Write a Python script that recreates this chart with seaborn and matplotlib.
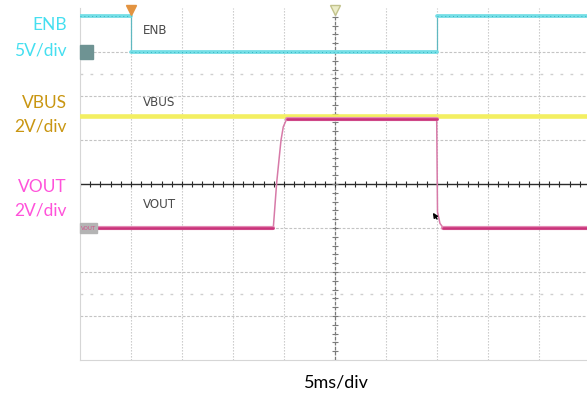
import numpy as np
import pandas as pd
import matplotlib
matplotlib.use("Agg")
import matplotlib.pyplot as plt
import seaborn as sns

# ---- captured waveforms (time in ms, amplitude in volts) ----
t_enb = [0.0, 5.0, 5.0, 35.0, 35.0, 50.0]
v_enb = [4.1, 4.1, 0.0, 0.0, 4.1, 4.1]

t_vbus = [0.0, 50.0]
v_vbus = [5.1, 5.1]

t_vout = [0.0, 18.95, 19.28, 19.54, 19.71, 19.93, 20.26, 34.97, 35.05, 35.29, 35.62, 50.0]
v_vout = [0.0, 0.0, 2.05, 3.24, 4.0, 4.6, 4.95, 4.95, 0.73, 0.21, 0.0, 0.0]

# channel settings: volts per division and ground offset (divisions)
channels = ["ENB", "VBUS", "VOUT"]
volts_per_div = [5, 2, 2]
ground_div = [3.0, -1.0, -1.0]
time_per_div = 5  # ms

# ---- figure ----
sns.set_theme(style="white")
plt.rcParams["font.family"] = ["Lato", "DejaVu Sans"]

W, H = 587, 397
fig = plt.figure(figsize=(W / 100, H / 100), dpi=100)
x0, y_bot, y_top, px_div = 80, 360, 8, 51
ax = fig.add_axes([x0 / W, (H - y_bot) / H, (W - x0) / W, (y_bot - y_top) / H])
ax.set_xlim(0, (W - x0) / px_div * time_per_div)
ax.set_ylim(-4, 4)
ax.set_xticks([])
ax.set_yticks([])
for s in ["top", "right"]:
    ax.spines[s].set_visible(False)
for s in ["left", "bottom"]:
    ax.spines[s].set_color("#d6d6d6")
    ax.spines[s].set_linewidth(0.8)

# graticule
grid_kw = dict(color="#c4c4c4", lw=0.8, zorder=1)
for k in range(1, 10):
    if k != 5:
        ax.axvline(k * time_per_div, ls=(0, (1.2, 1.5)), **grid_kw)
for k in (-3, -2, -1, 1, 2, 3):
    ax.axhline(k, ls=(0, (2.5, 1.5)), **grid_kw)
for k in (-2.5, 2.5):
    ax.axhline(k, ls=(0, (2, 5.2)), color="#cfcfcf", lw=1.0, zorder=1)

# centre cross with minor ticks
ax.axhline(0, color="#2b2b2b", lw=1.0, zorder=2)
ax.axvline(25, color="#7a7a7a", lw=0.9, ls=(0, (3, 1)), zorder=2)
minor_t = np.arange(0, 50.01, 1.0)
ax.plot(minor_t, np.zeros_like(minor_t), ls="none", marker="|", ms=4,
        mew=0.8, color="#2b2b2b", zorder=2)
minor_v = np.arange(-4, 4.01, 0.2)
ax.plot(np.full_like(minor_v, 25), minor_v, ls="none", marker="_", ms=4,
        mew=0.8, color="#7a7a7a", zorder=2)


def to_frame(t, v, ch):
    i = channels.index(ch)
    return pd.DataFrame({"t": t, "div": np.asarray(v) / volts_per_div[i] + ground_div[i]})


def level_segments(df):
    """Split a trace into its flat (settled) portions, one unit per segment."""
    rows = []
    vals = df["div"].to_numpy()
    ts = df["t"].to_numpy()
    seg = 0
    for i in range(len(vals) - 1):
        if np.isclose(vals[i], vals[i + 1]):
            rows += [(ts[i], vals[i], seg), (ts[i + 1], vals[i + 1], seg)]
            seg += 1
    return pd.DataFrame(rows, columns=["t", "div", "seg"])


enb = to_frame(t_enb, v_enb, "ENB")
vbus = to_frame(t_vbus, v_vbus, "VBUS")
vout = to_frame(t_vout, v_vout, "VOUT")

common = dict(x="t", y="div", ax=ax, estimator=None, sort=False, legend=False)

# VBUS
sns.lineplot(data=vbus, color="#f3ef62", lw=3.3, zorder=4, **common)

# ENB: thin edges, thick settled levels with darker sample dots
sns.lineplot(data=enb, color="#5fb8c0", lw=0.9, zorder=5, **common)
enb_lv = level_segments(enb)
sns.lineplot(data=enb_lv, units="seg", color="#74dee6", lw=2.7, zorder=5, **common)
sns.lineplot(data=enb_lv, units="seg", color="#35b4c0", lw=0.7,
             dashes=False, linestyle=(0, (1, 3)), zorder=6, **common)

# VOUT
sns.lineplot(data=vout, color="#d77aa8", lw=1.1, zorder=6, **common)
vout_lv = level_segments(vout)
sns.lineplot(data=vout_lv, units="seg", color="#e48ab4", lw=3.0, zorder=6, **common)
sns.lineplot(data=vout_lv, units="seg", color="#c9337a", lw=1.8, zorder=7, **common)

# channel ground markers
tpx = time_per_div / px_div  # ms per pixel
ax.add_patch(plt.Rectangle((0, ground_div[0] - 0.15), 13 * tpx, 0.3,
                           color="#6e9393", zorder=8, clip_on=False))
ax.add_patch(plt.Rectangle((0, ground_div[2] - 0.12), 17 * tpx, 0.24,
                           color="#b4b4b4", zorder=8, clip_on=False))
ax.text(8.5 * tpx, ground_div[2], "VOUT", fontsize=4, color="#d0508a",
        ha="center", va="center", zorder=9, family="DejaVu Sans")

# trigger position / time reference markers
ax.plot([5.0], [3.96], marker="v", ms=7, color="#e39340", mec="#e39340", zorder=9, clip_on=False)
ax.plot([25.0], [3.96], marker="v", ms=7, color="#ecedc8", mec="#c2c28c", zorder=9, clip_on=False)
ax.plot([50.3], [3.45], marker="o", ms=8, color="#40c8d4", zorder=9, clip_on=True)

# cursor
ax.annotate("", xy=(34.45, -0.6), xytext=(35.15, -0.85),
            arrowprops=dict(arrowstyle="-|>", color="black", lw=1.0,
                            mutation_scale=7), zorder=10)

# trace labels on screen
lab_kw = dict(fontsize=9.5, color="#4a4a4a", family="DejaVu Sans", fontstretch="condensed",
              va="center", ha="left", zorder=9)
ax.text(6.2, (184 - 31) / 44, "ENB", **lab_kw)
ax.text(6.2, (184 - 103) / 44, "VBUS", **lab_kw)
ax.text(6.2, (184 - 204) / 44, "VOUT", **lab_kw)

# channel captions on the left
cap = [("ENB", 25, "#45dff0"), ("5V/div", 50, "#45dff0"),
       ("VBUS", 103, "#c99612"), ("2V/div", 127, "#c99612"),
       ("VOUT", 187, "#ff52da"), ("2V/div", 211, "#ff52da")]
for txt, ypx, col in cap:
    fig.text(67 / W, 1 - ypx / H, txt, fontsize=12.5, color=col, ha="right", va="center")

fig.text(336 / W, 1 - 382 / H, "5ms/div", fontsize=13, color="black", ha="center", va="center")

fig.savefig("out.png", dpi=100, facecolor="white")
